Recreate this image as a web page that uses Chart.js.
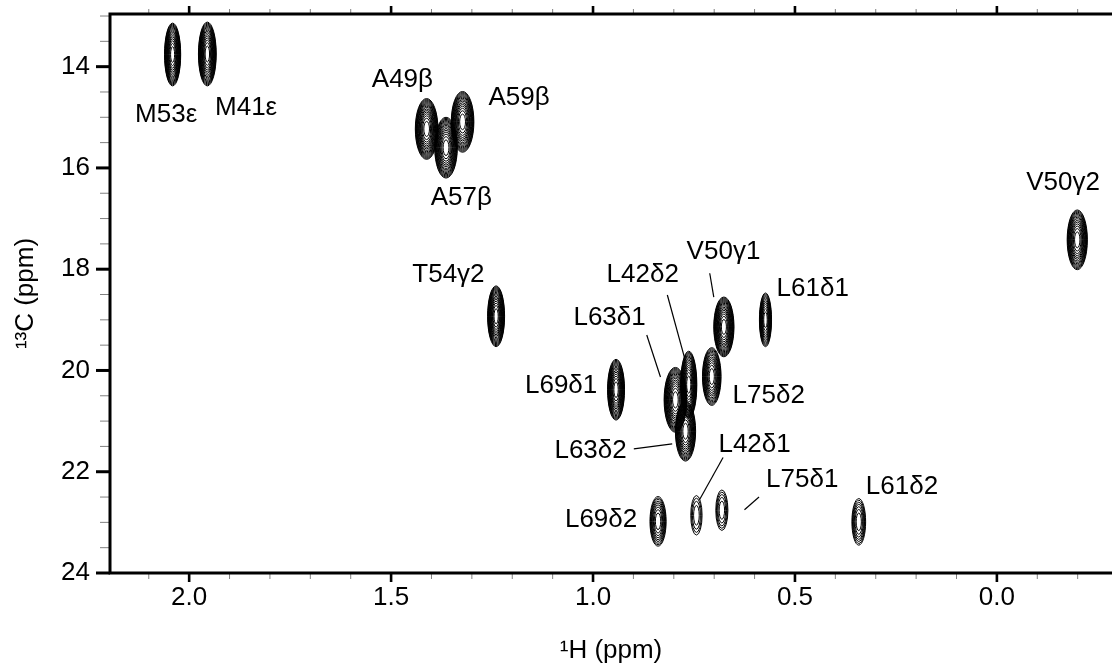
<!DOCTYPE html>
<html>
<head>
<meta charset="utf-8">
<script src="https://cdn.jsdelivr.net/npm/chart.js@4"></script>
<style>
  html, body { margin: 0; padding: 0; background: #fff; }
  #wrap { width: 1112px; height: 666px; }
</style>
</head>
<body>
<div id="wrap"><canvas id="grafico1" width="1112" height="666"></canvas></div>
<script>
// picos: nome, 1H, 13C (ppm), meia-largura do contorno externo (ppm), nº de níveis
const peakNames = ['M53ε', 'M41ε', 'A49β', 'A59β', 'A57β', 'V50γ2', 'T54γ2', 'V50γ1', 'L61δ1',
  'L75δ2', 'L69δ1', 'L63δ1', 'L42δ2', 'L63δ2', 'L69δ2', 'L42δ1', 'L75δ1', 'L61δ2'];
const peakH = [2.041, 1.955, 1.412, 1.323, 1.364, -0.199, 1.240, 0.676, 0.573,
  0.706, 0.943, 0.796, 0.763, 0.771, 0.839, 0.744, 0.681, 0.342];
const peakC = [13.76, 13.75, 15.23, 15.09, 15.60, 17.42, 18.93, 19.14, 19.00,
  20.12, 20.38, 20.58, 20.28, 21.20, 22.98, 22.86, 22.76, 22.99];
const peakWidthH = [0.020, 0.022, 0.028, 0.028, 0.028, 0.025, 0.021, 0.025, 0.015,
  0.023, 0.021, 0.028, 0.020, 0.025, 0.020, 0.014, 0.015, 0.017];
const peakWidthC = [0.62, 0.63, 0.60, 0.60, 0.60, 0.59, 0.60, 0.59, 0.53,
  0.57, 0.60, 0.64, 0.66, 0.59, 0.49, 0.39, 0.40, 0.46];
const peakLevels = [16, 16, 16, 15, 15, 14, 16, 16, 12,
  13, 15, 16, 15, 14, 9, 4, 5, 7];

// rótulos (centro do texto, ppm)
const labelText = ['M53ε', 'M41ε', 'A49β', 'A59β', 'A57β', 'V50γ2', 'T54γ2', 'V50γ1', 'L42δ2',
  'L63δ1', 'L61δ1', 'L69δ1', 'L75δ2', 'L63δ2', 'L42δ1', 'L75δ1', 'L69δ2', 'L61δ2'];
const labelH = [2.057, 1.859, 1.472, 1.183, 1.326, -0.164, 1.358, 0.677, 0.877,
  0.959, 0.456, 1.079, 0.565, 1.006, 0.600, 0.482, 0.980, 0.235];
const labelC = [14.96, 14.82, 14.26, 14.62, 16.59, 16.30, 18.11, 17.66, 18.11,
  18.96, 18.39, 20.30, 20.50, 21.59, 21.47, 22.16, 22.95, 22.30];

// linhas de ligação [H1, C1, H2, C2]
const leaderLines = [
  [0.711, 18.08, 0.701, 18.55],   // V50γ1
  [0.816, 18.51, 0.773, 19.76],   // L42δ2
  [0.867, 19.30, 0.833, 20.13],   // L63δ1
  [0.899, 21.55, 0.804, 21.45],   // L63δ2
  [0.678, 21.72, 0.736, 22.55],   // L42δ1
  [0.589, 22.50, 0.625, 22.75]    // L75δ1
];

const xTickLabels = [2.0, 1.5, 1.0, 0.5, 0.0];
const yTickLabels = [14, 16, 18, 20, 22, 24];

const FONT = "'Liberation Sans', Arial, sans-serif";
const FSIZE = 26;

function isMajorX(v) { return xTickLabels.some(t => Math.abs(t - v) < 1e-6); }
function isMajorY(v) { return yTickLabels.some(t => Math.abs(t - v) < 1e-6); }

const spectrumPlugin = {
  id: 'spectrum',
  afterDatasetsDraw(chart) {
    const ctx = chart.ctx;
    const xs = chart.scales.x, ys = chart.scales.y;
    const area = chart.chartArea;
    ctx.save();
    ctx.beginPath();
    ctx.rect(area.left, area.top, area.right - area.left, area.bottom - area.top);
    ctx.clip();
    // contornos
    ctx.strokeStyle = '#000';
    ctx.lineWidth = 1;
    for (let i = 0; i < peakNames.length; i++) {
      const cx = xs.getPixelForValue(peakH[i]);
      const cy = ys.getPixelForValue(peakC[i]);
      const rx = Math.abs(xs.getPixelForValue(peakH[i] + peakWidthH[i]) - cx);
      const ry = Math.abs(ys.getPixelForValue(peakC[i] + peakWidthC[i]) - cy);
      const n = peakLevels[i];
      for (let k = 0; k < n; k++) {
        const f = Math.sqrt(1 - k / n);
        ctx.beginPath();
        ctx.ellipse(cx, cy, Math.max(rx * f, 0.4), ry * f, 0, 0, Math.PI * 2);
        ctx.stroke();
      }
    }
    ctx.restore();

    ctx.save();
    // linhas de ligação
    ctx.strokeStyle = '#000';
    ctx.lineWidth = 1.2;
    leaderLines.forEach(l => {
      ctx.beginPath();
      ctx.moveTo(xs.getPixelForValue(l[0]), ys.getPixelForValue(l[1]));
      ctx.lineTo(xs.getPixelForValue(l[2]), ys.getPixelForValue(l[3]));
      ctx.stroke();
    });
    // rótulos
    ctx.fillStyle = '#000';
    ctx.font = FSIZE + 'px ' + FONT;
    ctx.textAlign = 'center';
    ctx.textBaseline = 'middle';
    for (let i = 0; i < labelText.length; i++) {
      ctx.fillText(labelText[i], xs.getPixelForValue(labelH[i]), ys.getPixelForValue(labelC[i]));
    }
    ctx.restore();
  },
  afterDraw(chart) {
    const ctx = chart.ctx;
    const xs = chart.scales.x, ys = chart.scales.y;
    const a = chart.chartArea;
    ctx.save();
    // marcas dos eixos
    xs.ticks.forEach(t => {
      const px = xs.getPixelForValue(t.value);
      const major = isMajorX(t.value);
      ctx.strokeStyle = major ? '#000' : '#808080';
      ctx.lineWidth = major ? 2.6 : 1;
      ctx.beginPath();
      ctx.moveTo(px, a.bottom);
      ctx.lineTo(px, a.bottom + (major ? 9 : 6));
      ctx.moveTo(px, a.top);
      ctx.lineTo(px, a.top - (major ? 8 : 5));
      ctx.stroke();
    });
    ys.ticks.forEach(t => {
      const py = ys.getPixelForValue(t.value);
      const major = isMajorY(t.value);
      ctx.strokeStyle = major ? '#000' : '#808080';
      ctx.lineWidth = major ? 3 : 1;
      ctx.beginPath();
      ctx.moveTo(a.left, py);
      ctx.lineTo(a.left - (major ? 14 : 10), py);
      ctx.stroke();
    });
    // moldura (esquerda, topo, baixo)
    ctx.strokeStyle = '#000';
    ctx.lineWidth = 3;
    ctx.beginPath();
    ctx.moveTo(a.right + 2, a.top);
    ctx.lineTo(a.left, a.top);
    ctx.lineTo(a.left, a.bottom);
    ctx.lineTo(a.right + 2, a.bottom);
    ctx.stroke();
    ctx.restore();
  }
};

const ctx = document.getElementById('grafico1').getContext('2d');

const chart = new Chart(ctx, {
  type: 'scatter',
  data: {
    datasets: [{
      label: 'picos',
      data: peakH.map((h, i) => ({ x: h, y: peakC[i] })),
      pointRadius: 0,
      pointHoverRadius: 0
    }]
  },
  options: {
    responsive: false,
    animation: false,
    devicePixelRatio: 1,
    layout: { padding: { top: 14, left: 0, right: 0, bottom: 0 } },
    plugins: { legend: { display: false }, tooltip: { enabled: false } },
    scales: {
      x: {
        type: 'linear',
        reverse: true,
        min: -0.285,
        max: 2.196,
        afterFit: s => { s.height = 93; s.paddingLeft = 0; s.paddingRight = 0; },
        grid: { display: false, drawTicks: false },
        border: { display: false },
        ticks: {
          stepSize: 0.1,
          includeBounds: false,
          autoSkip: false,
          maxRotation: 0,
          padding: 9,
          color: '#000',
          font: { family: FONT, size: FSIZE },
          callback: v => isMajorX(v) ? (Math.round(v * 10) / 10).toFixed(1) : ''
        },
        title: {
          display: true,
          text: '¹H (ppm)',
          color: '#000',
          font: { family: FONT, size: FSIZE },
          padding: { top: 0, bottom: 0 }
        }
      },
      y: {
        type: 'linear',
        reverse: true,
        min: 12.96,
        max: 24,
        afterFit: s => { s.width = 110; s.paddingTop = 0; s.paddingBottom = 0; },
        grid: { display: false, drawTicks: false },
        border: { display: false },
        ticks: {
          stepSize: 0.5,
          includeBounds: false,
          autoSkip: false,
          padding: 20,
          color: '#000',
          font: { family: FONT, size: FSIZE },
          callback: v => isMajorY(v) ? String(Math.round(v)) : ''
        },
        title: {
          display: true,
          text: '¹³C (ppm)',
          color: '#000',
          font: { family: FONT, size: FSIZE },
          padding: { top: 10, bottom: 0 }
        }
      }
    }
  },
  plugins: [spectrumPlugin]
});
</script>
</body>
</html>
